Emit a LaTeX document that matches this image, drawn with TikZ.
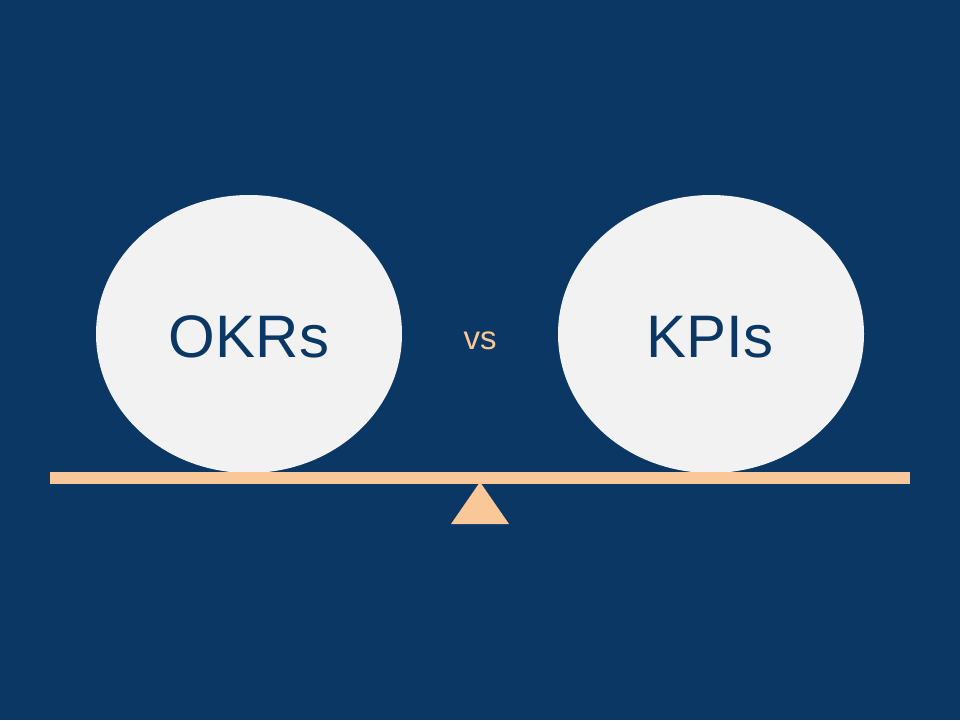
\documentclass[tikz,border=0pt]{standalone}
\usepackage{fontspec}
\setmainfont{Liberation Sans}
\usetikzlibrary{shapes.geometric}
\definecolor{bgblue}{HTML}{0B3765}
\definecolor{ballgray}{HTML}{F2F2F2}
\definecolor{peach}{HTML}{FAC898}
\tikzset{
  ball/.style={ellipse, fill=ballgray, draw=none, minimum width=306pt, minimum height=278pt, inner sep=0pt},
  bigtext/.style={text=bgblue, font=\fontsize{60}{60}\selectfont},
  vstext/.style={text=peach, font=\fontsize{33}{33}\selectfont},
}
\begin{document}
\begin{tikzpicture}[x=1pt,y=-1pt]
\useasboundingbox (0,0) rectangle (960,720);
\fill[bgblue] (0,0) rectangle (960,720);
\node[ball] (left) at (249,334) {};
\node[ball] (right) at (711,334) {};
\node[bigtext] (okrs) at (249,337) {OKRs};
\node[bigtext] (kpis) at (710,337) {KPIs};
\node[vstext] (vs) at (480,341) {vs};
\fill[peach] (50,472) rectangle (910,484);
\coordinate (apex) at (480,482);
\coordinate (bl) at (451,524);
\coordinate (br) at (509,524);
\fill[peach] (apex) -- (br) -- (bl) -- cycle;
\end{tikzpicture}
\end{document}
